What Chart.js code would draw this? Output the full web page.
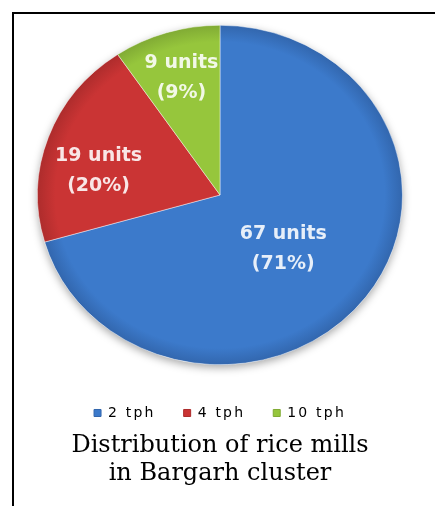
<!DOCTYPE html>
<html>
<head>
<meta charset="utf-8">
<script src="https://cdn.jsdelivr.net/npm/chart.js@4.4.0/dist/chart.umd.min.js"></script>
<style>
   html, body { margin: 0; padding: 0; background: #fff; overflow: hidden; }
   #frame { position: absolute; left: 12px; top: 12px; right: 0; bottom: 0; border-top: 2px solid #000; border-left: 2px solid #000; }
   #wrap { position: absolute; left: 0; top: 0; width: 435px; height: 506px; }
</style>
</head>
<body>
<div id="frame"></div>
<div id="wrap"><canvas id="millsChart"></canvas></div>
<script>
const categories = ['2 tph', '4 tph', '10 tph'];
const units = [67, 19, 9];
const sliceColours = ['#3C7ACB', '#CA3434', '#96C63C'];
const sliceRims = ['#3266AD', '#AD2C2C', '#80AA34'];
const titleLines = ['Distribution of rice mills', 'in Bargarh cluster'];

// where each slice label sits: fraction of radius, and a small turn (degrees) off the slice middle
const labelRadius = [0.47, 0.68, 0.72];
const labelTurn = [5.5, -8, 0];
// the pie in the picture is a bit flatter than a circle
const squash = 0.93;

function sliceFill(context){
   const chart = context.chart;
   const area = chart.chartArea;
   if(!area){
      return sliceColours[context.dataIndex];
   }
   const cx = (area.left + area.right) / 2;
   const cy = (area.top + area.bottom) / 2;
   const r = Math.min(area.right - area.left, area.bottom - area.top) / 2;
   const g = chart.ctx.createRadialGradient(cx, cy, 0, cx, cy, r);
   g.addColorStop(0, sliceColours[context.dataIndex]);
   g.addColorStop(0.9, sliceColours[context.dataIndex]);
   g.addColorStop(1, sliceRims[context.dataIndex]);
   return g;
}

const pieLook = {
   id: 'pieLook',
   beforeDatasetsDraw(chart){
      const ctx = chart.ctx;
      const arc = chart.getDatasetMeta(0).data[0];
      ctx.save();
      ctx.translate(arc.x, arc.y);
      ctx.scale(1, squash);
      ctx.translate(-arc.x, -arc.y);
      // soft shadow under the whole pie
      ctx.save();
      ctx.shadowColor = 'rgba(0, 0, 0, 0.35)';
      ctx.shadowBlur = 8;
      ctx.shadowOffsetY = 3;
      ctx.beginPath();
      ctx.arc(arc.x, arc.y, arc.outerRadius, 0, Math.PI * 2);
      ctx.fillStyle = '#fff';
      ctx.fill();
      ctx.restore();
   },
   afterDatasetsDraw(chart){
      const ctx = chart.ctx;
      ctx.restore();
      const total = units.reduce((a, b) => a + b, 0);
      ctx.save();
      ctx.font = 'bold 19px "DejaVu Sans"';
      ctx.textAlign = 'center';
      ctx.textBaseline = 'middle';
      ctx.fillStyle = 'rgba(255, 255, 255, 0.88)';
      chart.getDatasetMeta(0).data.forEach((arc, i) => {
         const mid = (arc.startAngle + arc.endAngle) / 2 + labelTurn[i] * Math.PI / 180;
         const r = arc.outerRadius * labelRadius[i];
         const x = arc.x + Math.cos(mid) * r;
         const y = arc.y + Math.sin(mid) * r * squash;
         ctx.fillText(units[i] + ' units', x, y - 15);
         ctx.fillText('(' + Math.round(units[i] / total * 100) + '%)', x, y + 15);
      });
      ctx.restore();
   }
};

const millsChartE = document.getElementById('millsChart').getContext('2d');
const millsChart = new Chart(millsChartE, {
   type: 'pie',
   data: {
      labels: categories,
      datasets: [
         {
            data: units,
            backgroundColor: sliceFill,
            borderColor: 'rgba(255, 255, 255, 0.45)',
            borderWidth: 1
         }
      ]
   },
   options: {
      responsive: true,
      maintainAspectRatio: false,
      animation: false,
      events: [],
      layout: {
         padding: { top: 12, left: 36, right: 31, bottom: 0 }
      },
      plugins: {
         legend: {
            position: 'bottom',
            maxHeight: 44,
            labels: {
               boxWidth: 7,
               boxHeight: 7,
               padding: 28,
               color: '#595959',
               font: { family: '"DejaVu Sans"', size: 14 },
               generateLabels(chart){
                  return categories.map((c, i) => ({
                     text: c,
                     fillStyle: sliceColours[i],
                     strokeStyle: sliceRims[i],
                     lineWidth: 1,
                     hidden: false,
                     index: i
                  }));
               }
            }
         },
         title: {
            display: true,
            position: 'bottom',
            text: titleLines,
            color: '#000',
            font: { family: '"DejaVu Serif"', size: 24, weight: 'normal', lineHeight: 1.1667 },
            padding: { top: 10, bottom: 18 }
         },
         tooltip: { enabled: false }
      }
   },
   plugins: [pieLook]
});

// legend text in the picture is widely spaced
const legendBox = millsChart.legend;
['fit', 'draw'].forEach(name => {
   const orig = legendBox[name];
   legendBox[name] = function(...args){
      this.ctx.letterSpacing = '2.2px';
      const res = orig.apply(this, args);
      this.ctx.letterSpacing = '0px';
      return res;
   };
});
millsChart.update();
</script>
</body>
</html>
